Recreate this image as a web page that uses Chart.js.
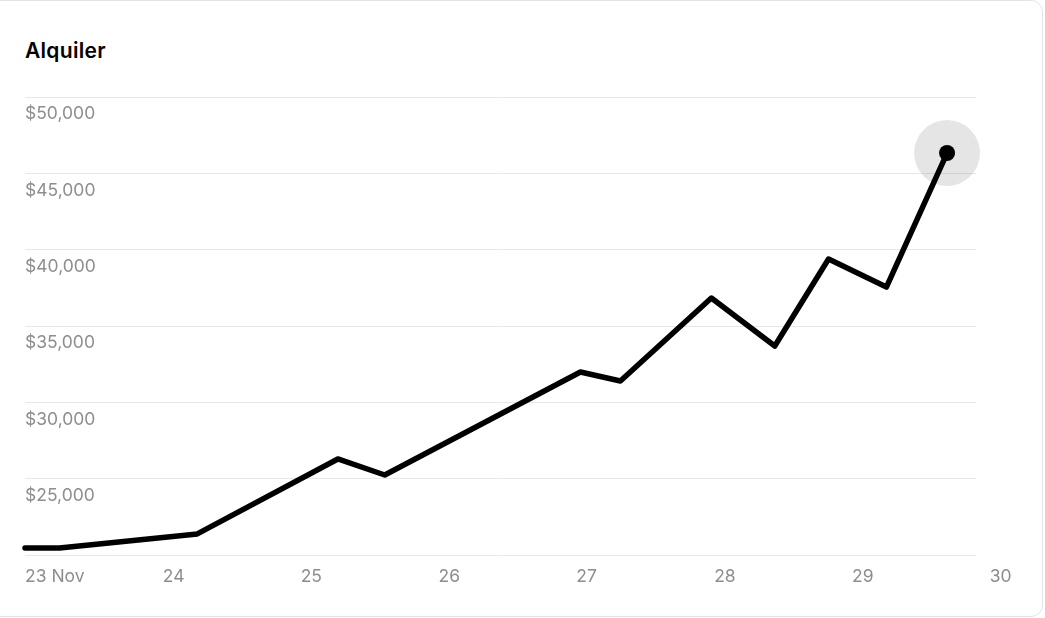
<!DOCTYPE html>
<html lang="es">
<head>
<meta charset="utf-8">
<title>Alquiler</title>
<script src="https://cdn.jsdelivr.net/npm/chart.js@4.4.1/dist/chart.umd.min.js"></script>
<style>
    html, body {
        margin: 0;
        padding: 0;
        background: #ffffff;
        overflow: hidden;
    }
    .card {
        position: absolute;
        left: -20px;
        top: 0;
        width: 1063px;
        height: 617px;
        box-sizing: border-box;
        border: 1px solid #e4e4e4;
        border-radius: 12px;
    }
    .title {
        position: absolute;
        left: 25px;
        top: 39px;
        margin: 0;
        font-family: Inter, "Noto Sans", sans-serif;
        font-weight: 600;
        font-size: 21px;
        letter-spacing: 0.3px;
        line-height: 24px;
        color: #000000;
    }
    .chartBox {
        position: absolute;
        left: -8px;
        top: 64px;
        width: 1053px;
        height: 554px;
    }
</style>
</head>
<body>
<div class="card"></div>
<h2 class="title">Alquiler</h2>
<div class="chartBox"><canvas id="rentChart"></canvas></div>

<script>
// Datos: día de noviembre (con fracción del día) y valor del alquiler
const days = [23.0, 23.25, 24.25, 25.27, 25.61, 27.03, 27.32, 27.98, 28.44, 28.83, 29.25, 29.69];
const rent = [20460, 20460, 21380, 26290, 25240, 31990, 31400, 36830, 33690, 39390, 37550, 46330];

// Etiquetas de los ejes
const tickDays = [23, 24, 25, 26, 27, 28, 29, 30];
const tickLabels = ["23 Nov", "24", "25", "26", "27", "28", "29", "30"];
const yMin = 20000;
const yMax = 50000;
const yStep = 5000;

const points = days.map((d, i) => ({ x: d, y: rent[i] }));
const lastIndex = rent.length - 1;

Chart.defaults.font.family = "Inter, 'Noto Sans', sans-serif";
Chart.defaults.font.size = 17.5;
Chart.defaults.color = "#8e8e8e";

const ctx = document.getElementById("rentChart").getContext("2d");

new Chart(ctx, {
    type: 'line',
    data: {
        datasets: [{
            // Linea principal
            data: points,
            borderColor: '#000000',
            borderWidth: 5.5,
            borderJoinStyle: 'round',
            borderCapStyle: 'round',
            tension: 0,
            fill: false,
            clip: false,
            pointRadius: c => c.dataIndex === lastIndex ? 8 : 0,
            pointBackgroundColor: '#000000',
            pointBorderWidth: 0,
            order: 1
        }, {
            // Halo gris alrededor del último punto
            data: points,
            showLine: false,
            clip: false,
            pointRadius: c => c.dataIndex === lastIndex ? 33 : 0,
            pointBackgroundColor: 'rgba(0, 0, 0, 0.1)',
            pointBorderWidth: 0,
            order: 2
        }]
    },
    options: {
        responsive: true,
        maintainAspectRatio: false,
        animation: false,
        events: [],
        layout: {
            padding: { top: 0, left: 17, right: 69, bottom: 28 }
        },
        plugins: {
            legend: { display: false },
            tooltip: { enabled: false }
        },
        scales: {
            x: {
                type: 'linear',
                min: 23,
                max: 29.9,
                grid: { display: false },
                border: { display: false },
                afterBuildTicks: axis => {
                    axis.ticks = tickDays.map(v => ({ value: v }));
                },
                ticks: {
                    autoSkip: false,
                    maxRotation: 0,
                    align: 'start',
                    padding: 3,
                    callback: (value) => tickLabels[tickDays.indexOf(value)]
                }
            },
            y: {
                min: yMin,
                max: yMax,
                border: { display: false },
                grid: {
                    color: '#e8e8e8',
                    lineWidth: 1,
                    drawTicks: false
                },
                ticks: {
                    stepSize: yStep,
                    mirror: true,
                    padding: 0,
                    labelOffset: 17,
                    callback: (value) => value === yMin ? '' : '$' + value.toLocaleString('en-US')
                }
            }
        }
    }
});
</script>
</body>
</html>
